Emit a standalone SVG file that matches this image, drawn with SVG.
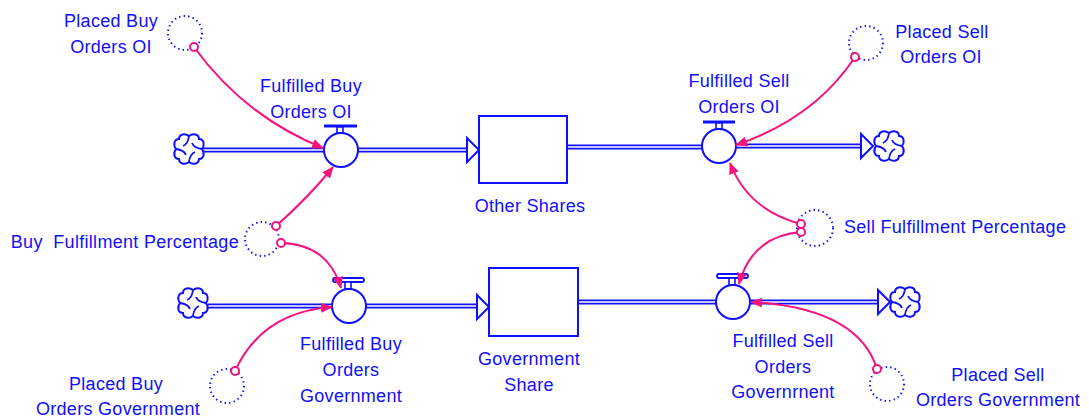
<svg xmlns="http://www.w3.org/2000/svg" width="1089" height="420" viewBox="0 0 1089 420">
<style>
text{font-family:"Liberation Sans",Arial,sans-serif;font-size:18px;fill:#1010ff;letter-spacing:0.3px}
.c{text-anchor:middle}
.pipeo{stroke:#1010ff;stroke-width:5;fill:none}
.pipei{stroke:#fff;stroke-width:1.6;fill:none}
.stock{fill:#fff;stroke:#1010ff;stroke-width:2}
.valve{fill:#fff;stroke:#1010ff;stroke-width:2}
.aux{fill:none;stroke:#1010ff;stroke-width:2;stroke-dasharray:1.4 3.2}
.flowhead{fill:#fff;stroke:#1010ff;stroke-width:2;stroke-linejoin:miter}
.link{fill:none;stroke:#f5137c;stroke-width:2}
.tail{fill:#fff;stroke:#f5137c;stroke-width:2}
.cloud{fill:#fff;stroke:#1010ff;stroke-width:2}
.swirl{fill:none;stroke:#1010ff;stroke-width:1.8}
</style>
<defs>
<marker id="ah" viewBox="0 0 12 10" refX="11" refY="5" markerWidth="12" markerHeight="10" markerUnits="userSpaceOnUse" orient="auto">
<path d="M0,0 L12,5 L0,10 Z" fill="#f5137c"/>
</marker>
<g id="cl">
<path class="cloud" d="M0,-13 C4,-16 10,-15 10,-10 C15,-10 16,-4 13,0 C16,4 15,10 10,10 C10,15 4,16 0,13 C-4,16 -10,15 -10,10 C-15,10 -16,4 -13,0 C-16,-4 -15,-10 -10,-10 C-10,-15 -4,-16 0,-13 Z"/>
<path class="swirl" d="M0,-13 Q-1,-5 -6,-3 M13,0 Q5,-1 3,-6 M0,13 Q1,5 6,3 M-13,0 Q-5,1 -3,6"/>
</g>
</defs>

<g id="pipes">
<path class="pipeo" d="M203,150 H324 M357,150 H468 M567,147 H702 M736,146 H862 M208,306 H332 M366,306 H478 M578,302 H716 M750,302 H879"/>
<path class="pipei" d="M203,150 H324 M357,150 H468 M567,147 H702 M736,146 H862 M208,306 H332 M366,306 H478 M578,302 H716 M750,302 H879"/>
<path class="flowhead" d="M467,138 L479,150 L467,162 Z"/>
<path class="flowhead" d="M861,134 L873,146 L861,158 Z"/>
<path class="flowhead" d="M477,295 L489,307 L477,319 Z"/>
<path class="flowhead" d="M878,290 L890,302 L878,314 Z"/>
</g>

<g id="cloud-top-left"><use href="#cl" x="189" y="149"/></g>
<g id="cloud-top-right"><use href="#cl" x="889" y="146"/></g>
<g id="cloud-bottom-left"><use href="#cl" x="193" y="303"/></g>
<g id="cloud-bottom-right"><use href="#cl" x="905" y="302"/></g>

<g id="other-shares">
<rect class="stock" x="479" y="116" width="88" height="67"/>
<text class="c" x="530" y="212">Other Shares</text>
</g>
<g id="government-share">
<rect class="stock" x="489" y="268" width="89" height="68"/>
<text class="c" x="529" y="365">Government</text>
<text class="c" x="529" y="391">Share</text>
</g>

<g id="fulfilled-buy-orders-oi">
<line x1="324" y1="126" x2="357" y2="126" stroke="#1010ff" stroke-width="3"/>
<rect x="337" y="127" width="6" height="6" fill="#fff" stroke="#1010ff" stroke-width="1.6"/>
<circle class="valve" cx="341" cy="150" r="17"/>
<text class="c" x="311" y="92">Fulfilled Buy</text>
<text class="c" x="311" y="118">Orders OI</text>
</g>
<g id="fulfilled-sell-orders-oi">
<line x1="703" y1="122" x2="735" y2="122" stroke="#1010ff" stroke-width="3"/>
<rect x="716" y="123" width="6" height="6" fill="#fff" stroke="#1010ff" stroke-width="1.6"/>
<circle class="valve" cx="719" cy="146" r="17"/>
<text class="c" x="739" y="87">Fulfilled Sell</text>
<text class="c" x="739" y="113">Orders OI</text>
</g>
<g id="fulfilled-buy-orders-government">
<rect x="333" y="278" width="31" height="4" rx="2" fill="#fff" stroke="#1010ff" stroke-width="1.8"/>
<rect x="345" y="282" width="6" height="7" fill="#fff" stroke="#1010ff" stroke-width="1.6"/>
<circle class="valve" cx="349" cy="306" r="17"/>
<text class="c" x="351" y="350">Fulfilled Buy</text>
<text class="c" x="351" y="376">Orders</text>
<text class="c" x="351" y="402">Government</text>
</g>
<g id="fulfilled-sell-orders-government">
<rect x="717" y="274" width="31" height="4" rx="2" fill="#fff" stroke="#1010ff" stroke-width="1.8"/>
<rect x="729" y="278" width="6" height="7" fill="#fff" stroke="#1010ff" stroke-width="1.6"/>
<circle class="valve" cx="733" cy="302" r="17"/>
<text class="c" x="783" y="347">Fulfilled Sell</text>
<text class="c" x="783" y="373">Orders</text>
<text class="c" x="783" y="398">Governrnent</text>
</g>

<g id="placed-buy-orders-oi">
<circle class="aux" cx="185" cy="33" r="17"/>
<text class="c" x="111" y="27">Placed Buy</text>
<text class="c" x="111" y="53">Orders OI</text>
</g>
<g id="placed-sell-orders-oi">
<circle class="aux" cx="866" cy="43" r="17"/>
<text class="c" x="942" y="38">Placed Sell</text>
<text class="c" x="941" y="63">Orders OI</text>
</g>
<g id="buy-fulfillment-percentage">
<circle class="aux" cx="262" cy="239" r="17"/>
<text x="239" y="248" text-anchor="end">Buy&#160; Fulfillment Percentage</text>
</g>
<g id="sell-fulfillment-percentage">
<circle class="aux" cx="815" cy="228" r="18"/>
<text x="844" y="233">Sell Fulfillment Percentage</text>
</g>
<g id="placed-buy-orders-government">
<circle class="aux" cx="227" cy="386" r="17"/>
<text class="c" x="116" y="390">Placed Buy</text>
<text class="c" x="118" y="415">Orders Government</text>
</g>
<g id="placed-sell-orders-government">
<circle class="aux" cx="887" cy="384" r="17"/>
<text class="c" x="998" y="381">Placed Sell</text>
<text class="c" x="998" y="406">Orders Government</text>
</g>

<g id="connectors">
<path class="link" marker-end="url(#ah)" d="M194,47 Q244,116 323,148"/>
<path class="link" marker-end="url(#ah)" d="M276,226 Q308,198 333,167"/>
<path class="link" marker-end="url(#ah)" d="M281,243 Q328,244 341,288"/>
<path class="link" marker-end="url(#ah)" d="M235,371 Q262,312 332,307"/>
<path class="link" marker-end="url(#ah)" d="M855,57 Q815,118 736,145"/>
<path class="link" marker-end="url(#ah)" d="M801,224 Q748,210 730,163"/>
<path class="link" marker-end="url(#ah)" d="M801,232 Q752,236 739,284"/>
<path class="link" marker-end="url(#ah)" d="M877,369 Q858,308 751,302"/>
<circle class="tail" cx="194" cy="47" r="4"/>
<circle class="tail" cx="276" cy="226" r="4"/>
<circle class="tail" cx="281" cy="243" r="4"/>
<circle class="tail" cx="235" cy="371" r="4"/>
<circle class="tail" cx="855" cy="57" r="4"/>
<circle class="tail" cx="801" cy="224" r="4"/>
<circle class="tail" cx="801" cy="232" r="4"/>
<circle class="tail" cx="877" cy="369" r="4"/>
</g>
</svg>
